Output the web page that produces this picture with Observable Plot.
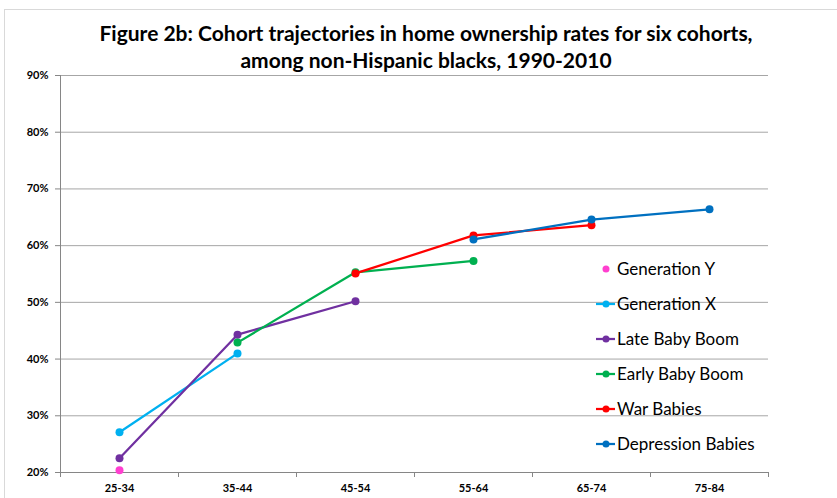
<!DOCTYPE html>
<html><head><meta charset="utf-8">
<script src="https://cdn.jsdelivr.net/npm/d3@7"></script>
<script src="https://cdn.jsdelivr.net/npm/@observablehq/plot@0.6"></script>
<style>
body{margin:0;background:#fff;overflow:hidden;font-family:Lato,"Open Sans",sans-serif;}
#wrap{position:relative;width:837px;height:498px;overflow:hidden;}
#frame{position:absolute;left:4px;top:9px;width:900px;height:600px;border:1px solid #d9d9d9;box-sizing:border-box;}
#title{position:absolute;left:0;top:19px;width:852px;text-align:center;font-weight:bold;font-size:21px;line-height:27px;color:#000;}
#chart{position:absolute;left:0;top:68px;}
#legend{position:absolute;left:596px;top:251px;font-size:17px;color:#000;}
#legend .row{display:flex;align-items:center;height:35px;}
#legend svg{display:block;margin-right:0px;}
</style></head>
<body>
<div id="wrap">
  <div id="frame"></div>
  <div id="title">Figure 2b: Cohort trajectories in home ownership rates for six cohorts,<br>among non-Hispanic blacks, 1990-2010</div>
  <div id="chart"></div>
  <div id="legend"></div>
</div>
<script>
const ageGroups = ["25-34", "35-44", "45-54", "55-64", "65-74", "75-84"];
const cohorts = ["Generation Y", "Generation X", "Late Baby Boom", "Early Baby Boom", "War Babies", "Depression Babies"];
const colors = ["#ff3fcf", "#00b0f0", "#7030a0", "#00b050", "#ff0000", "#0070c0"];
const generationY      = [20.4, null, null, null, null, null];
const generationX      = [27.1, 41.0, null, null, null, null];
const lateBabyBoom     = [22.5, 44.3, 50.2, null, null, null];
const earlyBabyBoom    = [null, 42.9, 55.3, 57.3, null, null];
const warBabies        = [null, null, 55.1, 61.8, 63.6, null];
const depressionBabies = [null, null, null, 61.1, 64.6, 66.4];
const yTicks = [20, 30, 40, 50, 60, 70, 80, 90];

const seriesValues = [generationY, generationX, lateBabyBoom, earlyBabyBoom, warBabies, depressionBabies];
const data = [];
cohorts.forEach((c, i) => seriesValues[i].forEach((v, j) => { if (v != null) data.push({cohort: c, age: ageGroups[j], value: v}); }));

const axisColor = "#868686";
const frameMark = (index, scales, values, dims) => {
  const g = d3.create("svg:g");
  const x0 = dims.marginLeft;
  const yb = scales.y(20), yt = scales.y(90);
  g.append("line").attr("x1", x0 + 0.5).attr("x2", x0 + 0.5).attr("y1", yt).attr("y2", yb).attr("stroke", axisColor);
  const step = scales.x(ageGroups[1]) - scales.x(ageGroups[0]);
  const bounds = ageGroups.map(a => scales.x(a) - step / 2).concat([scales.x(ageGroups[ageGroups.length - 1]) + step / 2]);
  bounds.forEach(b => g.append("line").attr("x1", Math.round(b) + 0.5).attr("x2", Math.round(b) + 0.5).attr("y1", yb).attr("y2", yb + 5).attr("stroke", axisColor));
  return g.node();
};

const seriesMarks = cohorts.flatMap(c => {
  const d = data.filter(r => r.cohort === c);
  return [
    Plot.line(d, {x: "age", y: "value", stroke: "cohort", strokeWidth: 2.25}),
    Plot.dot(d, {x: "age", y: "value", fill: "cohort", r: 4})
  ];
});

const chart = Plot.plot({
  width: 837, height: 430,
  marginLeft: 60, marginRight: 69, marginTop: 7, marginBottom: 26,
  style: {fontFamily: "Lato, 'Open Sans', sans-serif", color: "#000", background: "transparent"},
  x: {type: "point", domain: ageGroups, padding: 0.5, axis: null},
  y: {domain: [20, 90], axis: null},
  color: {domain: cohorts, range: colors},
  marks: [
    Plot.ruleY(yTicks.slice(1), {stroke: "#a6a6a6", strokeWidth: 1}),
    Plot.ruleY([20], {stroke: axisColor, strokeWidth: 1}),
    frameMark,
    Plot.axisY({ticks: yTicks, tickFormat: d => d + "%", tickSize: 5, tickPadding: 7, stroke: axisColor, fontWeight: "bold", fontSize: 11, fill: "#000", label: null}),
    Plot.axisX({tickSize: 0, tickPadding: 12, fontWeight: "bold", fontSize: 11, fill: "#000", label: null}),
    ...seriesMarks
  ]
});
document.getElementById("chart").appendChild(chart);

const legend = d3.select("#legend");
cohorts.forEach((c, i) => {
  const row = legend.append("div").attr("class", "row");
  const s = row.append("svg").attr("width", 21).attr("height", 12);
  if (i > 0) s.append("line").attr("x1", 0).attr("x2", 19).attr("y1", 6).attr("y2", 6).attr("stroke", colors[i]).attr("stroke-width", 2.25);
  s.append("circle").attr("cx", 10).attr("cy", 6).attr("r", 3.5).attr("fill", colors[i]);
  row.append("span").text(c);
});
</script>
</body></html>
